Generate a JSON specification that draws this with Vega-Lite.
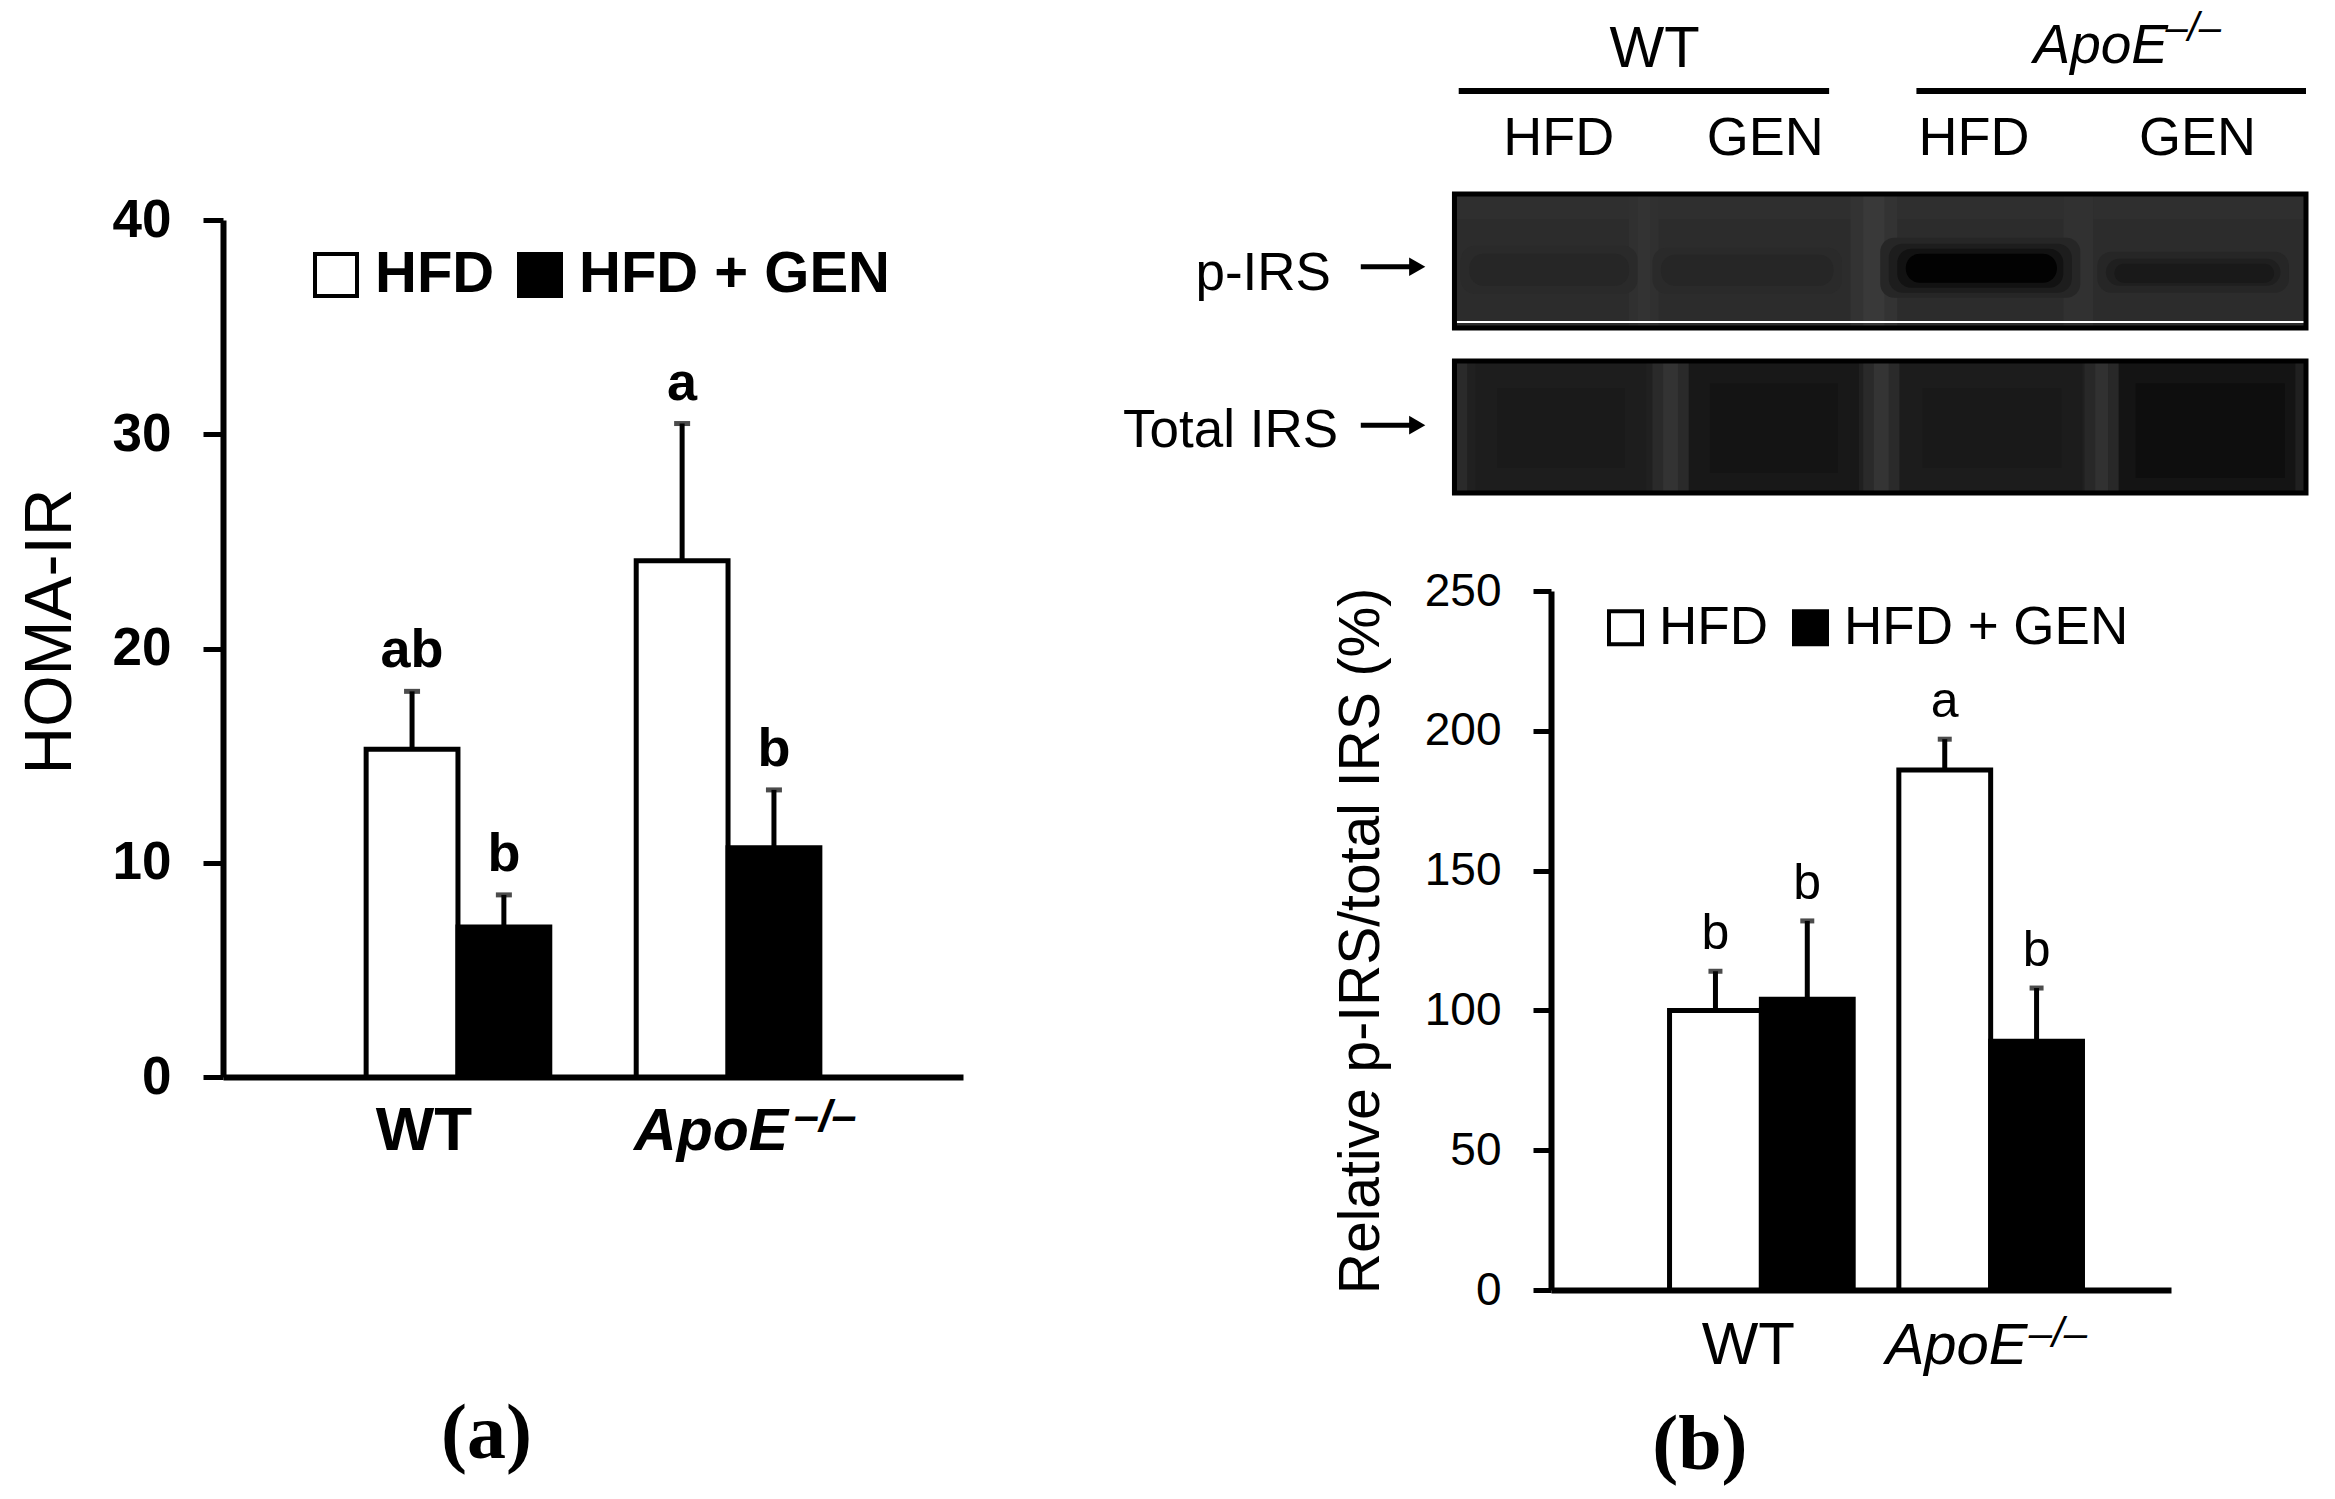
{
  "$schema": "https://vega.github.io/schema/vega-lite/v6.json",
  "background": "white",
  "padding": {"left": 17, "top": 9, "right": 5, "bottom": 5},
  "spacing": 159,
  "resolve": {"scale": {"fill": "independent", "color": "independent"}},
  "config": {
    "view": {"stroke": null},
    "font": "Liberation Sans",
    "axis": {"grid": false},
    "text": {"font": "Liberation Sans", "color": "black"}
  },
  "hconcat": [
    {
      "width": 740,
      "height": 857,
      "title": {"text": "(a)", "orient": "bottom", "anchor": "start", "dx": 424, "offset": 234, "font": "Liberation Serif", "fontSize": 78, "fontWeight": "bold", "color": "black"},
      "data": {"values": [
        {"genotype": "WT", "treatment": "HFD", "mean": 15.3, "upper": 18.0, "letter": "ab"},
        {"genotype": "WT", "treatment": "HFD + GEN", "mean": 7.0, "upper": 8.5, "letter": "b"},
        {"genotype": "ApoE", "treatment": "HFD", "mean": 24.1, "upper": 30.5, "letter": "a"},
        {"genotype": "ApoE", "treatment": "HFD + GEN", "mean": 10.7, "upper": 13.4, "letter": "b"}
      ]},
      "layer": [
        {
          "mark": {"type": "bar", "stroke": "black", "strokeWidth": 5},
          "encoding": {
            "x": {"field": "genotype", "type": "nominal", "sort": ["WT", "ApoE"], "scale": {"paddingInner": 0.32, "paddingOuter": 0.53}, "axis": {"title": null, "labels": false, "ticks": false, "domain": true, "domainWidth": 6, "domainColor": "black"}},
            "xOffset": {"field": "treatment", "type": "nominal", "sort": ["HFD", "HFD + GEN"], "scale": {"paddingInner": 0, "paddingOuter": 0}},
            "y": {"field": "mean", "type": "quantitative", "scale": {"domain": [0, 40], "nice": false},
              "axis": {"title": "HOMA-IR", "values": [0, 10, 20, 30, 40], "tickSize": 20, "tickWidth": 5, "tickColor": "black", "domainWidth": 6, "domainColor": "black", "labelFont": "Liberation Sans", "labelFontSize": 53, "labelFontWeight": "bold", "labelColor": "black", "labelPadding": 32, "labelFlush": false, "titleFont": "Liberation Sans", "titleFontSize": 66, "titleFontWeight": "normal", "titleColor": "black", "titlePadding": 28, "titleY": 411}},
            "fill": {"field": "treatment", "type": "nominal", "scale": {"domain": ["HFD", "HFD + GEN"], "range": ["white", "black"]},
              "legend": {"orient": "none", "legendX": 84, "legendY": 26, "direction": "horizontal", "title": null, "symbolType": "square", "symbolSize": 1764, "symbolStrokeColor": "black", "symbolStrokeWidth": 4, "labelFont": "Liberation Sans", "labelFontSize": 58, "labelFontWeight": "bold", "labelColor": "black", "labelOffset": 10, "labelLimit": 1000, "columnPadding": 16, "padding": 0}}
          }
        },
        {
          "mark": {"type": "rule", "strokeWidth": 5, "color": "black"},
          "encoding": {
            "x": {"field": "genotype", "type": "nominal", "sort": ["WT", "ApoE"]},
            "xOffset": {"field": "treatment", "type": "nominal", "sort": ["HFD", "HFD + GEN"]},
            "y": {"field": "mean", "type": "quantitative"},
            "y2": {"field": "upper"}
          }
        },
        {
          "mark": {"type": "tick", "orient": "horizontal", "size": 16, "thickness": 5, "color": "black"},
          "encoding": {
            "x": {"field": "genotype", "type": "nominal", "sort": ["WT", "ApoE"]},
            "xOffset": {"field": "treatment", "type": "nominal", "sort": ["HFD", "HFD + GEN"]},
            "y": {"field": "upper", "type": "quantitative"}
          }
        },
        {
          "mark": {"type": "text", "fontSize": 54, "fontWeight": "bold", "baseline": "alphabetic", "dy": -24, "color": "black"},
          "encoding": {
            "x": {"field": "genotype", "type": "nominal", "sort": ["WT", "ApoE"]},
            "xOffset": {"field": "treatment", "type": "nominal", "sort": ["HFD", "HFD + GEN"]},
            "y": {"field": "upper", "type": "quantitative"},
            "text": {"field": "letter"}
          }
        },
        {
          "data": {"values": [{}]},
          "mark": {"type": "text", "text": "WT", "fontSize": 62, "fontWeight": "bold", "baseline": "alphabetic", "align": "center", "dx": -34, "dy": 73, "color": "black"},
          "encoding": {"x": {"datum": "WT"}, "y": {"datum": 0}}
        },
        {
          "data": {"values": [{}]},
          "mark": {"type": "text", "text": "ApoE", "fontSize": 59, "fontWeight": "bold", "fontStyle": "italic", "baseline": "alphabetic", "align": "left", "dx": -94, "dy": 73, "color": "black"},
          "encoding": {"x": {"datum": "ApoE"}, "y": {"datum": 0}}
        },
        {
          "data": {"values": [{}]},
          "mark": {"type": "text", "text": "–/–", "fontSize": 45, "fontWeight": "bold", "fontStyle": "italic", "baseline": "alphabetic", "align": "left", "dx": 66, "dy": 54, "color": "black"},
          "encoding": {"x": {"datum": "ApoE"}, "y": {"datum": 0}}
        }
      ]
    },
    {
      "spacing": 72,
      "resolve": {"scale": {"fill": "independent", "color": "independent"}},
      "vconcat": [
        {
          "width": 755,
          "height": 273,
          "layer": [
            {
              "data": {"values": [
                {"blot": "p-IRS", "lane_from": 0, "lane_to": 4, "depth_from": 0, "depth_to": 13.45, "signal": 0.43},
                {"blot": "p-IRS", "lane_from": 0, "lane_to": 4, "depth_from": 2.5, "depth_to": 13.45, "signal": 0.47},
                {"blot": "p-IRS", "lane_from": 0.82, "lane_to": 0.96, "depth_from": 0, "depth_to": 13.45, "signal": 0.42},
                {"blot": "p-IRS", "lane_from": 0.86, "lane_to": 0.92, "depth_from": 0, "depth_to": 13.45, "signal": 0.38},
                {"blot": "p-IRS", "lane_from": 1.86, "lane_to": 2.08, "depth_from": 0, "depth_to": 13.45, "signal": 0.38},
                {"blot": "p-IRS", "lane_from": 1.92, "lane_to": 2.02, "depth_from": 0, "depth_to": 13.45, "signal": 0.3},
                {"blot": "p-IRS", "lane_from": 2.86, "lane_to": 3.0, "depth_from": 0, "depth_to": 13.45, "signal": 0.4},
                {"blot": "Total IRS", "lane_from": 0, "lane_to": 4, "depth_from": 16.75, "depth_to": 30, "signal": 0.64},
                {"blot": "Total IRS", "lane_from": 0, "lane_to": 0.06, "depth_from": 16.75, "depth_to": 30, "signal": 0.5},
                {"blot": "Total IRS", "lane_from": 0.1, "lane_to": 0.9, "depth_from": 16.75, "depth_to": 30, "signal": 0.69},
                {"blot": "Total IRS", "lane_from": 0.2, "lane_to": 0.8, "depth_from": 19.5, "depth_to": 27.5, "signal": 0.73},
                {"blot": "Total IRS", "lane_from": 1.1, "lane_to": 1.9, "depth_from": 16.75, "depth_to": 30, "signal": 0.76},
                {"blot": "Total IRS", "lane_from": 1.2, "lane_to": 1.8, "depth_from": 19, "depth_to": 28, "signal": 0.82},
                {"blot": "Total IRS", "lane_from": 2.08, "lane_to": 2.95, "depth_from": 16.75, "depth_to": 30, "signal": 0.7},
                {"blot": "Total IRS", "lane_from": 2.2, "lane_to": 2.85, "depth_from": 19.5, "depth_to": 27.5, "signal": 0.75},
                {"blot": "Total IRS", "lane_from": 3.1, "lane_to": 3.95, "depth_from": 16.75, "depth_to": 30, "signal": 0.82},
                {"blot": "Total IRS", "lane_from": 3.2, "lane_to": 3.9, "depth_from": 19, "depth_to": 28.5, "signal": 0.88},
                {"blot": "Total IRS", "lane_from": 0.93, "lane_to": 1.1, "depth_from": 16.75, "depth_to": 30, "signal": 0.5},
                {"blot": "Total IRS", "lane_from": 0.98, "lane_to": 1.05, "depth_from": 16.75, "depth_to": 30, "signal": 0.38},
                {"blot": "Total IRS", "lane_from": 1.92, "lane_to": 2.09, "depth_from": 16.75, "depth_to": 30, "signal": 0.5},
                {"blot": "Total IRS", "lane_from": 1.97, "lane_to": 2.04, "depth_from": 16.75, "depth_to": 30, "signal": 0.36},
                {"blot": "Total IRS", "lane_from": 2.96, "lane_to": 3.12, "depth_from": 16.75, "depth_to": 30, "signal": 0.52},
                {"blot": "Total IRS", "lane_from": 3.01, "lane_to": 3.07, "depth_from": 16.75, "depth_to": 30, "signal": 0.4}
              ]},
              "mark": {"type": "rect"},
              "encoding": {
                "x": {"field": "lane_from", "type": "quantitative", "scale": {"domain": [0.4535, 4], "nice": false, "zero": false}, "axis": null},
                "x2": {"field": "lane_to"},
                "y": {"field": "depth_from", "type": "quantitative", "scale": {"domain": [2.61, 30], "nice": false, "zero": false, "reverse": true}, "axis": null},
                "y2": {"field": "depth_to"},
                "color": {"field": "signal", "type": "quantitative", "scale": {"domain": [0, 1], "range": ["#505050", "#000000"]}, "legend": null}
              }
            },
            {
              "data": {"values": [
                {"lane_from": 0.03, "lane_to": 0.86, "depth_from": 5.2, "depth_to": 10.0, "signal": 0.5},
                {"lane_from": 0.93, "lane_to": 1.82, "depth_from": 5.4, "depth_to": 10.0, "signal": 0.5},
                {"lane_from": 2.0, "lane_to": 2.94, "depth_from": 4.4, "depth_to": 10.4, "signal": 0.55},
                {"lane_from": 2.04, "lane_to": 2.9, "depth_from": 5.0, "depth_to": 9.9, "signal": 0.68},
                {"lane_from": 3.02, "lane_to": 3.92, "depth_from": 5.8, "depth_to": 9.9, "signal": 0.55},
                {"lane_from": 0.07, "lane_to": 0.82, "depth_from": 6.0, "depth_to": 9.2, "signal": 0.56},
                {"lane_from": 0.97, "lane_to": 1.78, "depth_from": 6.1, "depth_to": 9.2, "signal": 0.56},
                {"lane_from": 2.08, "lane_to": 2.86, "depth_from": 5.5, "depth_to": 9.4, "signal": 0.84},
                {"lane_from": 3.06, "lane_to": 3.88, "depth_from": 6.5, "depth_to": 9.2, "signal": 0.66},
                {"lane_from": 3.1, "lane_to": 3.85, "depth_from": 7.0, "depth_to": 8.9, "signal": 0.74},
                {"lane_from": 2.12, "lane_to": 2.83, "depth_from": 6.0, "depth_to": 8.9, "signal": 0.98}
              ]},
              "mark": {"type": "rect", "cornerRadius": 14},
              "encoding": {
                "x": {"field": "lane_from", "type": "quantitative"},
                "x2": {"field": "lane_to"},
                "y": {"field": "depth_from", "type": "quantitative"},
                "y2": {"field": "depth_to"},
                "color": {"field": "signal", "type": "quantitative", "legend": null}
              }
            },
            {
              "data": {"values": [{"lane_from": 0, "lane_to": 4, "depth": 12.85}]},
              "mark": {"type": "rule", "color": "white", "strokeWidth": 2},
              "encoding": {
                "x": {"field": "lane_from", "type": "quantitative"},
                "x2": {"field": "lane_to"},
                "y": {"field": "depth", "type": "quantitative"}
              }
            },
            {
              "data": {"values": [
                {"blot": "p-IRS", "lane_from": 0, "lane_to": 4, "depth_from": 0, "depth_to": 13.45},
                {"blot": "Total IRS", "lane_from": 0, "lane_to": 4, "depth_from": 16.75, "depth_to": 30}
              ]},
              "mark": {"type": "rect", "filled": false, "stroke": "black", "strokeWidth": 5},
              "encoding": {
                "x": {"field": "lane_from", "type": "quantitative"},
                "x2": {"field": "lane_to"},
                "y": {"field": "depth_from", "type": "quantitative"},
                "y2": {"field": "depth_to"}
              }
            },
            {
              "data": {"values": [
                {"blot": "p-IRS", "lane": -0.58, "depth": 9.6},
                {"blot": "Total IRS", "lane": -0.547, "depth": 25.4}
              ]},
              "mark": {"type": "text", "fontSize": 53, "align": "right", "baseline": "alphabetic", "color": "black"},
              "encoding": {
                "x": {"field": "lane", "type": "quantitative"},
                "y": {"field": "depth", "type": "quantitative"},
                "text": {"field": "blot"}
              }
            },
            {
              "data": {"values": [
                {"blot": "p-IRS", "lane_from": -0.44, "lane_to": -0.2, "depth": 7.3},
                {"blot": "Total IRS", "lane_from": -0.44, "lane_to": -0.2, "depth": 23.2}
              ]},
              "mark": {"type": "rule", "color": "black", "strokeWidth": 5},
              "encoding": {
                "x": {"field": "lane_from", "type": "quantitative"},
                "x2": {"field": "lane_to"},
                "y": {"field": "depth", "type": "quantitative"}
              }
            },
            {
              "data": {"values": [
                {"blot": "p-IRS", "lane": -0.175, "depth": 7.3},
                {"blot": "Total IRS", "lane": -0.175, "depth": 23.2}
              ]},
              "mark": {"type": "point", "shape": "triangle-right", "filled": true, "color": "black", "size": 350, "opacity": 1},
              "encoding": {
                "x": {"field": "lane", "type": "quantitative"},
                "y": {"field": "depth", "type": "quantitative"}
              }
            },
            {
              "data": {"values": [
                {"label": "HFD", "lane": 0.49},
                {"label": "GEN", "lane": 1.46},
                {"label": "HFD", "lane": 2.44},
                {"label": "GEN", "lane": 3.49}
              ]},
              "mark": {"type": "text", "fontSize": 54, "align": "center", "baseline": "alphabetic", "color": "black"},
              "encoding": {
                "x": {"field": "lane", "type": "quantitative"},
                "y": {"datum": -3.9},
                "text": {"field": "label"}
              }
            },
            {
              "data": {"values": [
                {"group": "WT", "lane_from": 0.02, "lane_to": 1.76},
                {"group": "ApoE", "lane_from": 2.17, "lane_to": 4.0}
              ]},
              "mark": {"type": "rule", "color": "black", "strokeWidth": 6},
              "encoding": {
                "x": {"field": "lane_from", "type": "quantitative"},
                "x2": {"field": "lane_to"},
                "y": {"datum": -10.33}
              }
            },
            {
              "data": {"values": [{}]},
              "mark": {"type": "text", "text": "WT", "fontSize": 58, "align": "center", "baseline": "alphabetic", "color": "black"},
              "encoding": {"x": {"datum": 0.94}, "y": {"datum": -12.7}}
            },
            {
              "data": {"values": [{}]},
              "mark": {"type": "text", "text": "ApoE", "fontSize": 55, "fontStyle": "italic", "align": "left", "baseline": "alphabetic", "color": "black"},
              "encoding": {"x": {"datum": 2.72}, "y": {"datum": -13.1}}
            },
            {
              "data": {"values": [{}]},
              "mark": {"type": "text", "text": "–/–", "fontSize": 40, "fontStyle": "italic", "align": "left", "baseline": "alphabetic", "color": "black"},
              "encoding": {"x": {"datum": 3.34}, "y": {"datum": -15.3}}
            }
          ]
        },
        {
          "width": 620,
          "height": 699,
          "title": {"text": "(b)", "orient": "bottom", "anchor": "start", "dx": 320, "offset": 31, "font": "Liberation Serif", "fontSize": 78, "fontWeight": "bold", "color": "black"},
          "data": {"values": [
            {"genotype": "WT", "treatment": "HFD", "mean": 100, "upper": 114, "letter": "b"},
            {"genotype": "WT", "treatment": "HFD + GEN", "mean": 104, "upper": 132, "letter": "b"},
            {"genotype": "ApoE", "treatment": "HFD", "mean": 186, "upper": 197, "letter": "a"},
            {"genotype": "ApoE", "treatment": "HFD + GEN", "mean": 89, "upper": 108, "letter": "b"}
          ]},
          "layer": [
            {
              "mark": {"type": "bar", "stroke": "black", "strokeWidth": 5},
              "encoding": {
                "x": {"field": "genotype", "type": "nominal", "sort": ["WT", "ApoE"], "scale": {"paddingInner": 0.33, "paddingOuter": 0.517}, "axis": {"title": null, "labels": false, "ticks": false, "domain": true, "domainWidth": 6, "domainColor": "black"}},
                "xOffset": {"field": "treatment", "type": "nominal", "sort": ["HFD", "HFD + GEN"], "scale": {"paddingInner": 0, "paddingOuter": 0}},
                "y": {"field": "mean", "type": "quantitative", "scale": {"domain": [0, 250], "nice": false},
                  "axis": {"title": "Relative p-IRS/total IRS (%)", "values": [0, 50, 100, 150, 200, 250], "tickSize": 18, "tickWidth": 5, "tickColor": "black", "domainWidth": 6, "domainColor": "black", "labelFont": "Liberation Sans", "labelFontSize": 46, "labelFontWeight": "normal", "labelColor": "black", "labelPadding": 32, "labelFlush": false, "titleFont": "Liberation Sans", "titleFontSize": 57, "titleFontWeight": "normal", "titleColor": "black", "titlePadding": 34}},
                "fill": {"field": "treatment", "type": "nominal", "scale": {"domain": ["HFD", "HFD + GEN"], "range": ["white", "black"]},
                  "legend": {"orient": "none", "legendX": 48, "legendY": 10, "direction": "horizontal", "title": null, "symbolType": "square", "symbolSize": 1089, "symbolStrokeColor": "black", "symbolStrokeWidth": 4, "labelFont": "Liberation Sans", "labelFontSize": 53, "labelFontWeight": "normal", "labelColor": "black", "labelOffset": 7, "labelLimit": 1000, "columnPadding": 16, "padding": 0}}
              }
            },
            {
              "mark": {"type": "rule", "strokeWidth": 5, "color": "black"},
              "encoding": {
                "x": {"field": "genotype", "type": "nominal", "sort": ["WT", "ApoE"]},
                "xOffset": {"field": "treatment", "type": "nominal", "sort": ["HFD", "HFD + GEN"]},
                "y": {"field": "mean", "type": "quantitative"},
                "y2": {"field": "upper"}
              }
            },
            {
              "mark": {"type": "tick", "orient": "horizontal", "size": 14, "thickness": 5, "color": "black"},
              "encoding": {
                "x": {"field": "genotype", "type": "nominal", "sort": ["WT", "ApoE"]},
                "xOffset": {"field": "treatment", "type": "nominal", "sort": ["HFD", "HFD + GEN"]},
                "y": {"field": "upper", "type": "quantitative"}
              }
            },
            {
              "mark": {"type": "text", "fontSize": 50, "fontWeight": "normal", "baseline": "alphabetic", "dy": -22, "color": "black"},
              "encoding": {
                "x": {"field": "genotype", "type": "nominal", "sort": ["WT", "ApoE"]},
                "xOffset": {"field": "treatment", "type": "nominal", "sort": ["HFD", "HFD + GEN"]},
                "y": {"field": "upper", "type": "quantitative"},
                "text": {"field": "letter"}
              }
            },
            {
              "data": {"values": [{}]},
              "mark": {"type": "text", "text": "WT", "fontSize": 60, "baseline": "alphabetic", "align": "center", "dx": 2, "dy": 74, "color": "black"},
              "encoding": {"x": {"datum": "WT"}, "y": {"datum": 0}}
            },
            {
              "data": {"values": [{}]},
              "mark": {"type": "text", "text": "ApoE", "fontSize": 58, "fontStyle": "italic", "baseline": "alphabetic", "align": "left", "dx": -90, "dy": 74, "color": "black"},
              "encoding": {"x": {"datum": "ApoE"}, "y": {"datum": 0}}
            },
            {
              "data": {"values": [{}]},
              "mark": {"type": "text", "text": "–/–", "fontSize": 42, "fontStyle": "italic", "baseline": "alphabetic", "align": "left", "dx": 53, "dy": 57, "color": "black"},
              "encoding": {"x": {"datum": "ApoE"}, "y": {"datum": 0}}
            }
          ]
        }
      ]
    }
  ]
}
